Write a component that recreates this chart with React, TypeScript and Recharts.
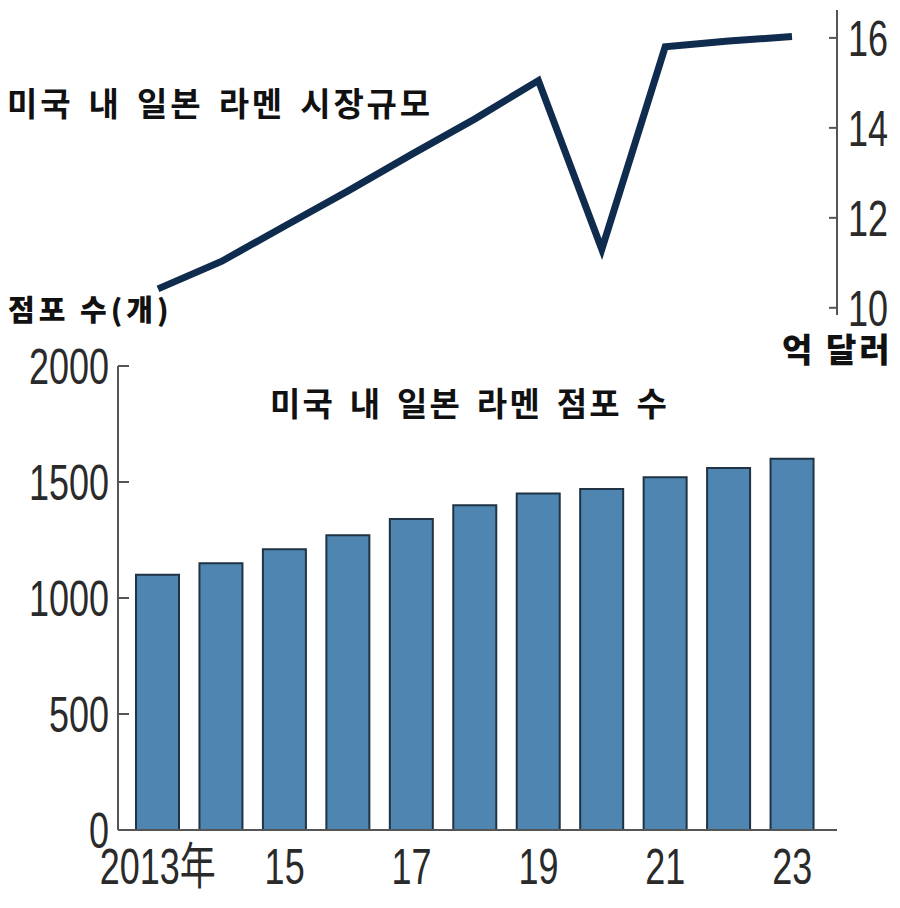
import { Bar, BarChart, Line, LineChart, XAxis, YAxis } from "recharts";

const years = ["2013", "2014", "2015", "2016", "2017", "2018", "2019", "2020", "2021", "2022", "2023"];
// 점포 수 (개)
const storeCounts = [1100, 1150, 1210, 1270, 1340, 1400, 1450, 1470, 1520, 1560, 1600];
// 시장규모 (억 달러)
const marketSize = [10.42, 11.03, 11.82, 12.6, 13.41, 14.2, 15.05, 11.3, 15.8, 15.93, 16.03];
const storeTicks = [0, 500, 1000, 1500, 2000];
const marketTicks = [10, 12, 14, 16];

const data = years.map((year, i) => ({
  year,
  stores: storeCounts[i],
  market: marketSize[i],
}));

const numFont = "'Liberation Sans', 'Noto Sans CJK SC', sans-serif";
const krFont = "'Noto Sans CJK KR', 'Noto Sans', sans-serif";
const axisColor = "#555";

// narrow tick label: regular font squeezed horizontally
function NarrowTick(props: any) {
  const { x, y, payload, textAnchor, tickFormatter, dy } = props;
  const label = tickFormatter ? tickFormatter(payload.value, payload.index) : String(payload.value);
  return (
    <g transform={`translate(${x},${y})`}>
      <text
        transform="scale(0.72,1)"
        textAnchor={textAnchor}
        dy={dy}
        fill="#2a2a2a"
        fontSize={50}
        fontFamily={numFont}
      >
        {label}
      </text>
    </g>
  );
}

function Label(props: {
  text: string;
  left: number;
  top: number;
  size: number;
  weight: number;
  spacing?: number;
  wordSpacing?: number;
}) {
  const { text, left, top, size, weight, spacing, wordSpacing } = props;
  return (
    <div
      style={{
        position: "absolute",
        left,
        top,
        fontSize: size,
        lineHeight: `${size}px`,
        fontWeight: weight,
        letterSpacing: spacing ?? 0,
        wordSpacing: wordSpacing ?? 0,
        fontFamily: krFont,
        color: "#111",
        whiteSpace: "nowrap",
      }}
    >
      {text}
    </div>
  );
}

const yearLabel = (v: string) => (v === "2013" ? "2013年" : v.slice(2));

export default function App() {
  return (
    <div style={{ position: "absolute", left: 0, top: 0, width: 900, height: 908, background: "#fff" }}>
      <div style={{ position: "absolute", left: 0, top: 0 }}>
        <BarChart width={900} height={908} data={data} margin={{ top: 366, right: 63, bottom: 18, left: 0 }}>
          <XAxis
            dataKey="year"
            padding={{ left: 8, right: 13 }}
            interval={1}
            tickFormatter={yearLabel}
            axisLine={{ stroke: axisColor, strokeWidth: 2 }}
            tickLine={false}
            tickMargin={12}
            height={60}
            tick={(p: any) => <NarrowTick {...p} tickFormatter={yearLabel} dy="0.71em" />}
          />
          <YAxis
            domain={[0, 2000]}
            ticks={storeTicks}
            width={118}
            axisLine={{ stroke: axisColor, strokeWidth: 2 }}
            tickLine={{ stroke: axisColor, strokeWidth: 2 }}
            tickSize={-11}
            tickMargin={20}
            tick={(p: any) => <NarrowTick {...p} dy="0.355em" />}
          />
          <Bar dataKey="stores" barSize={43} fill="#4f86b1" stroke="#1f3344" strokeWidth={2} isAnimationActive={false} />
        </BarChart>
      </div>
      <div style={{ position: "absolute", left: 0, top: 0 }}>
        <LineChart width={900} height={340} data={data} margin={{ top: 10, right: 0, bottom: 25, left: 118 }}>
          <XAxis dataKey="year" hide padding={{ left: 40, right: 45 }} />
          <YAxis
            orientation="right"
            domain={[9.84, 16.62]}
            ticks={marketTicks}
            width={63}
            axisLine={{ stroke: axisColor, strokeWidth: 2 }}
            tickLine={{ stroke: axisColor, strokeWidth: 2 }}
            tickSize={-8}
            tickMargin={19}
            tick={(p: any) => <NarrowTick {...p} dy="0.355em" />}
          />
          <Line
            dataKey="market"
            type="linear"
            stroke="#0f2b4d"
            strokeWidth={7}
            dot={false}
            activeDot={false}
            isAnimationActive={false}
          />
        </LineChart>
      </div>
      <Label text="미국 내 일본 라멘 시장규모" left={7} top={86} size={33} weight={700} spacing={2.8} wordSpacing={5} />
      <Label text="점포 수(개)" left={8} top={294} size={29} weight={900} spacing={4} />
      <Label text="억 달러" left={782} top={332} size={33} weight={900} spacing={3} />
      <Label text="미국 내 일본 라멘 점포 수" left={270} top={386} size={33} weight={700} spacing={2.2} wordSpacing={5} />
    </div>
  );
}
